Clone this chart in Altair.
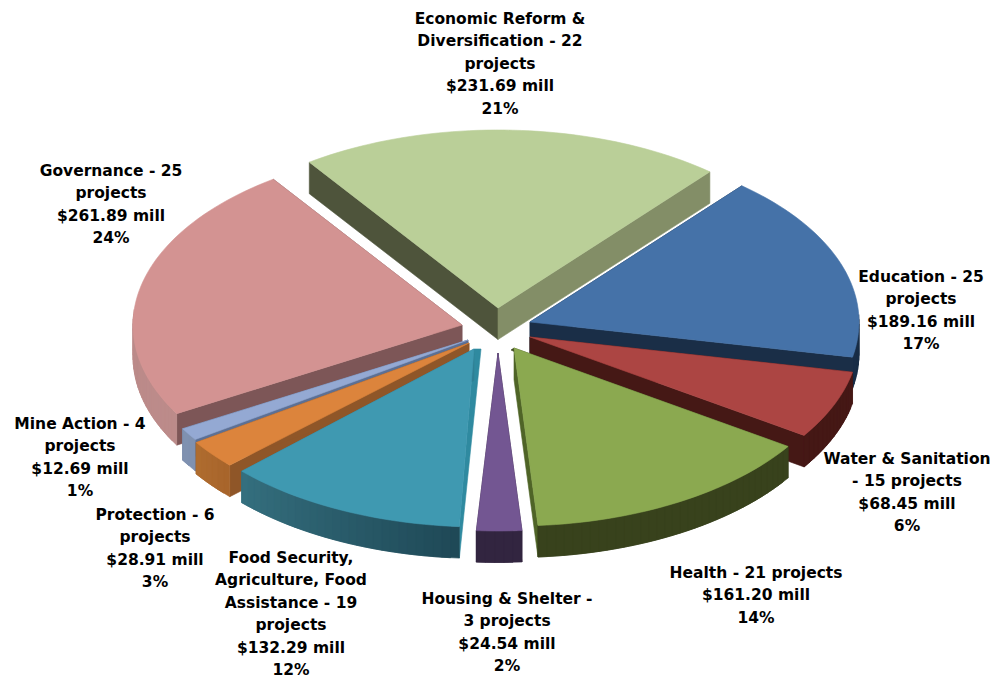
import math
import altair as alt

# ---- values ----
names = ["Economic Reform", "Education", "Water & Sanitation", "Health", "Housing & Shelter",
         "Food Security", "Protection", "Mine Action", "Governance"]
amounts = [231.69, 189.16, 68.45, 161.20, 24.54, 132.29, 28.91, 12.69, 261.89]
labels = [
    "Economic Reform &\nDiversification  - 22\nprojects\n$231.69 mill\n21%",
    "Education  - 25\nprojects\n$189.16 mill\n17%",
    "Water & Sanitation\n- 15 projects\n$68.45 mill\n6%",
    "Health  - 21 projects\n$161.20 mill\n14%",
    "Housing & Shelter -\n3 projects\n$24.54 mill\n2%",
    "Food Security,\nAgriculture, Food\nAssistance  - 19\nprojects\n$132.29 mill\n12%",
    "Protection  - 6\nprojects\n$28.91 mill\n3%",
    "Mine Action  - 4\nprojects\n$12.69 mill\n1%",
    "Governance  - 25\nprojects\n$261.89 mill\n24%",
]

# ---- layout and style ----
label_x = [500, 921, 907, 756, 507, 291, 155, 80, 111]
label_y = [12, 270, 452, 566, 592, 551, 508, 417, 164]
apex = [(498, 308), (530, 322), (530, 337), (514, 348), (498, 353),
        (481, 349), (469, 343), (468, 340), (462, 325)]
# corner of the top face at the centre, where it differs from the arc's centre
top_corner = [None, None, None, None, None, (474, 349), None, None, None]
# inner point of the radial face that starts each slice; None means straight below the corner
wall_inner = [None, None, None, (511, 350), None, (481, 349), None, None, None]
top_color = ["#BACF98", "#4572A8", "#AC4543", "#8BA950", "#735692",
             "#3F99B1", "#DC843C", "#94A9D3", "#D39392"]
start_wall = ["#4E543B", "#1A2E47", "#451815", "#38421C", "#322540",
              "#2F8AA0", "#8F5628", "#5C7095", "#7D5657"]
end_wall = ["#838E67", "#1A2E47", "#451815", "#4F6427", "#322540",
            "#2F7F95", "#8F5628", "#5C7095", "#7D5657"]
rim_from = ["#838E67", "#1A2E47", "#451815", "#38421C", "#322540",
            "#1F4957", "#A8652B", "#7F91B0", "#BC8B8A"]
rim_to = ["#838E67", "#1A2E47", "#451815", "#38421C", "#322540",
          "#35707F", "#B06D30", "#7F91B0", "#BC8B8A"]
draw_order = [0, 1, 8, 2, 7, 6, 5, 3, 4]
A, B, DEPTH = 329, 178, 31.5
START = -35.0
MARGIN = 8


def mix(c1, c2, t):
    p = [int(c1[i:i + 2], 16) for i in (1, 3, 5)]
    q = [int(c2[i:i + 2], 16) for i in (1, 3, 5)]
    return "#%02x%02x%02x" % tuple(round(u + (v - u) * t) for u, v in zip(p, q))


def feature(points, color):
    ring = [[x - MARGIN, y - MARGIN] for x, y in points]
    ring.append(ring[0])
    return {"type": "Feature", "properties": {"fill": color},
            "geometry": {"type": "Polygon", "coordinates": [ring]}}


total = sum(amounts)
spans = []
angle = START
for v in amounts:
    spans.append((angle, angle + v / total * 360))
    angle += v / total * 360


def point(cx, cy, t):
    return (cx + A * math.sin(math.radians(t)), cy - B * math.cos(math.radians(t)))


features = []
for i in draw_order:
    cx, cy = apex[i]
    a0, a1 = spans[i]
    n = max(2, int((a1 - a0) / 1.5))
    ts = [a0 + (a1 - a0) * k / n for k in range(n + 1)]
    edge = [point(cx, cy, t) for t in ts]
    down = lambda p: (p[0], p[1] + DEPTH)
    corner = top_corner[i] or (cx, cy)
    inner = wall_inner[i] or (corner[0], corner[1] + DEPTH)
    features.append(feature([corner, inner, down(edge[0]), edge[0]], start_wall[i]))
    features.append(feature([corner, edge[-1], down(edge[-1]), (corner[0], corner[1] + DEPTH)], end_wall[i]))
    # outer rim: only the part facing the viewer; each piece overlaps the next to avoid seams
    for k in range(n):
        if ts[k + 1] < 88 or ts[k] > 272:
            continue
        j = min(k + 2, n)
        features.append(feature([edge[k], edge[j], down(edge[j]), down(edge[k])],
                                mix(rim_from[i], rim_to[i], k / n)))
    features.append(feature([corner] + edge, top_color[i]))

W, H = 984, 671
pie = alt.Chart(alt.Data(values=features)).mark_geoshape(strokeWidth=0.6).encode(
    fill=alt.Fill("properties.fill:N", scale=None, legend=None),
    stroke=alt.Stroke("properties.fill:N", scale=None, legend=None),
).project(type="identity", scale=1, translate=[0, 0])

text_rows = [{"name": n, "label": l, "x": x, "y": y}
             for n, l, x, y in zip(names, labels, label_x, label_y)]
text = alt.Chart(alt.Data(values=text_rows)).mark_text(
    font="DejaVu Sans", fontSize=15.5, fontWeight="bold", color="#000000",
    align="center", baseline="top", lineBreak="\n", lineHeight=22.4,
).encode(
    x=alt.X("x:Q", axis=None, scale=alt.Scale(domain=[MARGIN, MARGIN + W], range=[0, W])),
    y=alt.Y("y:Q", axis=None, scale=alt.Scale(domain=[MARGIN, MARGIN + H], range=[0, H])),
    text="label:N",
)

chart = alt.layer(pie, text).properties(
    width=W, height=H, padding=0, autosize=alt.AutoSizeParams(type="none"),
    background="#ffffff",
).configure_view(stroke=None)

chart.save("out.html", embed_options={"renderer": "svg", "actions": False})
